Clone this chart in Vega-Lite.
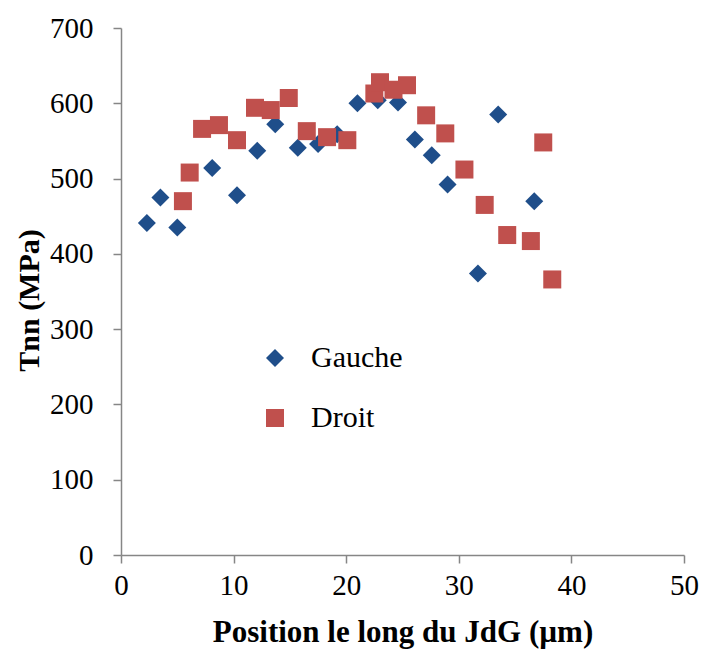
{
  "$schema": "https://vega.github.io/schema/vega-lite/v6.json",
  "autosize": "none",
  "width": 563,
  "height": 527,
  "padding": {"left": 121, "top": 28, "right": 19, "bottom": 95},
  "background": "white",
  "config": {
    "view": {"stroke": null},
    "font": "Liberation Serif"
  },
  "data": {
    "values": [
      {"serie": "Gauche", "x": 2.3, "y": 441},
      {"serie": "Gauche", "x": 3.5, "y": 475},
      {"serie": "Gauche", "x": 5.0, "y": 435},
      {"serie": "Gauche", "x": 8.1, "y": 514},
      {"serie": "Gauche", "x": 10.3, "y": 478},
      {"serie": "Gauche", "x": 12.1, "y": 537},
      {"serie": "Gauche", "x": 13.7, "y": 572},
      {"serie": "Gauche", "x": 15.7, "y": 541},
      {"serie": "Gauche", "x": 17.5, "y": 546},
      {"serie": "Gauche", "x": 19.2, "y": 559},
      {"serie": "Gauche", "x": 21.0, "y": 600},
      {"serie": "Gauche", "x": 22.8, "y": 604},
      {"serie": "Gauche", "x": 24.6, "y": 601},
      {"serie": "Gauche", "x": 26.1, "y": 552},
      {"serie": "Gauche", "x": 27.6, "y": 531},
      {"serie": "Gauche", "x": 29.0, "y": 492},
      {"serie": "Gauche", "x": 31.7, "y": 374},
      {"serie": "Gauche", "x": 33.5, "y": 585},
      {"serie": "Gauche", "x": 36.7, "y": 470},
      {"serie": "Droit", "x": 5.5, "y": 470},
      {"serie": "Droit", "x": 6.1, "y": 508},
      {"serie": "Droit", "x": 7.2, "y": 566},
      {"serie": "Droit", "x": 8.7, "y": 571},
      {"serie": "Droit", "x": 10.3, "y": 551},
      {"serie": "Droit", "x": 11.9, "y": 594},
      {"serie": "Droit", "x": 13.3, "y": 591},
      {"serie": "Droit", "x": 14.9, "y": 607},
      {"serie": "Droit", "x": 16.5, "y": 563},
      {"serie": "Droit", "x": 18.3, "y": 555},
      {"serie": "Droit", "x": 20.1, "y": 551},
      {"serie": "Droit", "x": 22.5, "y": 613},
      {"serie": "Droit", "x": 23.0, "y": 628},
      {"serie": "Droit", "x": 24.2, "y": 618},
      {"serie": "Droit", "x": 25.4, "y": 624},
      {"serie": "Droit", "x": 27.1, "y": 584},
      {"serie": "Droit", "x": 28.8, "y": 560},
      {"serie": "Droit", "x": 30.5, "y": 512},
      {"serie": "Droit", "x": 32.3, "y": 465},
      {"serie": "Droit", "x": 34.3, "y": 425},
      {"serie": "Droit", "x": 36.4, "y": 417},
      {"serie": "Droit", "x": 37.5, "y": 548},
      {"serie": "Droit", "x": 38.3, "y": 366}
    ]
  },
  "mark": {"type": "point", "filled": true, "opacity": 1, "size": 324, "strokeWidth": 0},
  "encoding": {
    "x": {
      "field": "x", "type": "quantitative",
      "scale": {"domain": [0, 50], "nice": false, "zero": true},
      "axis": {
        "values": [0, 10, 20, 30, 40, 50],
        "grid": false,
        "title": "Position le long du JdG (µm)",
        "titleFont": "Liberation Serif", "titleFontSize": 31, "titleFontWeight": "bold", "titleColor": "black",
        "titleX": 281.5, "titleY": 77, "titleBaseline": "middle", "titleAnchor": "start", "titleAlign": "center",
        "labelFont": "Liberation Serif", "labelFontSize": 29, "labelColor": "black", "labelPadding": 8,
        "labelFlush": false,
        "domainColor": "#868686", "domainWidth": 1.5, "tickColor": "#868686", "tickWidth": 1.5, "tickSize": 8
      }
    },
    "y": {
      "field": "y", "type": "quantitative",
      "scale": {"domain": [0, 700], "nice": false, "zero": true},
      "axis": {
        "values": [0, 100, 200, 300, 400, 500, 600, 700],
        "grid": false,
        "title": "Tnn (MPa)",
        "titleFont": "Liberation Serif", "titleFontSize": 30, "titleFontWeight": "bold", "titleColor": "black",
        "titleX": -92, "titleY": 272, "titleBaseline": "middle", "titleAnchor": "start", "titleAlign": "center", "titleAngle": -90,
        "labelFont": "Liberation Serif", "labelFontSize": 29, "labelColor": "black", "labelPadding": 20,
        "labelFlush": false,
        "domainColor": "#868686", "domainWidth": 1.5, "tickColor": "#868686", "tickWidth": 1.5, "tickSize": 8
      }
    },
    "color": {
      "field": "serie", "type": "nominal",
      "scale": {"domain": ["Gauche", "Droit"], "range": ["#1F4E8A", "#C0504D"]},
      "legend": {
        "title": null, "orient": "none", "legendX": 139, "legendY": 315, "padding": 0,
        "labelFont": "Liberation Serif", "labelFontSize": 30, "labelColor": "black", "labelOffset": 21,
        "symbolSize": 324, "rowPadding": 30, "symbolStrokeWidth": 0, "symbolOpacity": 1
      }
    },
    "shape": {
      "field": "serie", "type": "nominal",
      "scale": {"domain": ["Gauche", "Droit"], "range": ["diamond", "square"]}
    }
  }
}
